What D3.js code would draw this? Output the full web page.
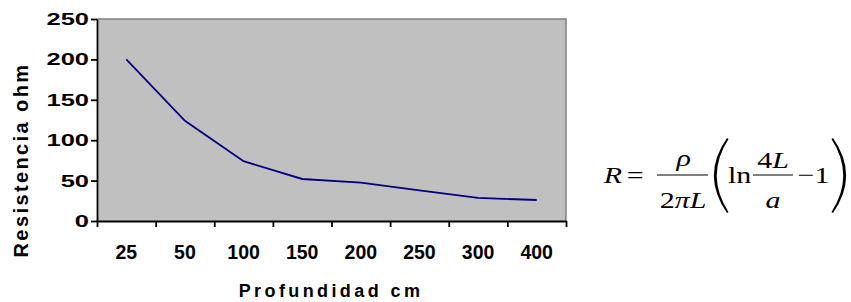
<!DOCTYPE html>
<html><head><meta charset="utf-8">
<script src="https://cdn.jsdelivr.net/npm/d3@7"></script>
<style>body{margin:0;background:#fff}svg{display:block}</style>
</head><body>
<script>
const categories = ["25","50","100","150","200","250","300","400"];
const resistencia = [200,124,74,52,47.5,38,28.5,26];
const yTicks = [0,50,100,150,200,250];
const yTitle = "Resistencia ohm";
const xTitle = "Profundidad cm";

const W = 851, H = 302;
const L = 97, R = 566, T = 19, B = 221;
const svg = d3.select("body").append("svg").attr("width", W).attr("height", H);

const x = d3.scaleBand().domain(categories).range([L, R]).padding(0);
const xb = d3.scaleLinear().domain([0, categories.length]).range([L, R]);
const y = d3.scaleLinear().domain([0, 250]).range([B, T]);

svg.append("rect").attr("x", L).attr("y", T).attr("width", R - L).attr("height", B - T)
  .attr("fill", "#c0c0c0");
svg.append("path").attr("d", `M${L},${T}H${R}V${B}`).attr("fill", "none")
  .attr("stroke", "#808080").attr("stroke-width", 1.5);

// line
svg.append("path").datum(resistencia)
  .attr("fill", "none").attr("stroke", "#000080").attr("stroke-width", 1.8)
  .attr("d", d3.line().x((d, i) => x(categories[i]) + x.bandwidth() / 2).y(d => y(d)));

// y axis
const ya = svg.append("g").attr("transform", `translate(${L},0)`)
  .call(d3.axisLeft(y).tickValues(yTicks).tickSize(6).tickPadding(3).tickSizeOuter(0));
ya.select(".domain").attr("stroke", "#000").attr("stroke-width", 1.8);
ya.selectAll(".tick line").attr("stroke", "#000").attr("stroke-width", 1.8);
ya.selectAll(".tick text").attr("font-family", "Arial, Liberation Sans, sans-serif")
  .attr("font-weight", "bold").attr("font-size", 17).attr("fill", "#000")
  .attr("x", 0).attr("transform", "translate(-8,0) scale(1.5,1)");

// x axis boundary ticks
const xa = svg.append("g").attr("transform", `translate(0,${B})`)
  .call(d3.axisBottom(xb).tickValues(d3.range(categories.length + 1)).tickSize(6).tickFormat("").tickSizeOuter(0));
xa.select(".domain").attr("stroke", "#000").attr("stroke-width", 1.8);
xa.selectAll(".tick line").attr("stroke", "#000").attr("stroke-width", 1.8);

// x labels
const xl = svg.append("g").attr("transform", `translate(0,${B})`)
  .call(d3.axisBottom(x).tickSize(0).tickPadding(24));
xl.select(".domain").remove();
xl.selectAll(".tick text").attr("font-family", "Arial, Liberation Sans, sans-serif")
  .attr("font-weight", "bold").attr("font-size", 19.5).attr("fill", "#000");

// titles
svg.append("text").attr("transform", "translate(28,160) rotate(-90)")
  .attr("text-anchor", "middle").attr("font-family", "Arial, Liberation Sans, sans-serif")
  .attr("font-weight", "bold").attr("font-size", 20).attr("letter-spacing", 2.4).text(yTitle);
svg.append("text").attr("x", 331).attr("y", 297)
  .attr("text-anchor", "middle").attr("font-family", "Arial, Liberation Sans, sans-serif")
  .attr("font-weight", "bold").attr("font-size", 18).attr("letter-spacing", 3.4).text(xTitle);

// formula (horizontally stretched like the reference)
const f = svg.append("g").attr("transform", "translate(600,0) scale(1.25,1) translate(-600,0)")
  .attr("font-family", "'Liberation Serif', 'Times New Roman', serif")
  .attr("font-size", 24).attr("fill", "#000");
f.append("text").attr("x", 603).attr("y", 183).attr("font-style", "italic").text("R");
f.append("text").attr("x", 621.5).attr("y", 183).text("=");
f.append("line").attr("x1", 645.6).attr("x2", 686.4).attr("y1", 175).attr("y2", 175).attr("stroke", "#000").attr("stroke-width", 1.1);
f.append("text").attr("x", 667).attr("y", 166).attr("text-anchor", "middle").attr("font-style", "italic").text("ρ");
f.append("text").attr("x", 666.4).attr("y", 208).attr("text-anchor", "middle")
  .html('2<tspan font-style="italic">π</tspan><tspan font-style="italic">L</tspan>');
f.append("path").attr("d", "M701.6,138 Q680.6,175.5 701.6,213 L702.8,212 Q684,175.5 702.8,139 Z").attr("fill", "#000");
f.append("text").attr("x", 702.4).attr("y", 183).text("ln");
f.append("line").attr("x1", 722.4).attr("x2", 754.4).attr("y1", 175).attr("y2", 175).attr("stroke", "#000").attr("stroke-width", 1.1);
f.append("text").attr("x", 738.4).attr("y", 168).attr("text-anchor", "middle")
  .html('4<tspan font-style="italic">L</tspan>');
f.append("text").attr("x", 738.4).attr("y", 208).attr("text-anchor", "middle").attr("font-style", "italic").text("a");
f.append("text").attr("x", 758).attr("y", 183).text("−1");
f.append("path").attr("d", "M786.4,138 Q807.4,175.5 786.4,213 L785.2,212 Q804,175.5 785.2,139 Z").attr("fill", "#000");
</script>
</body></html>
